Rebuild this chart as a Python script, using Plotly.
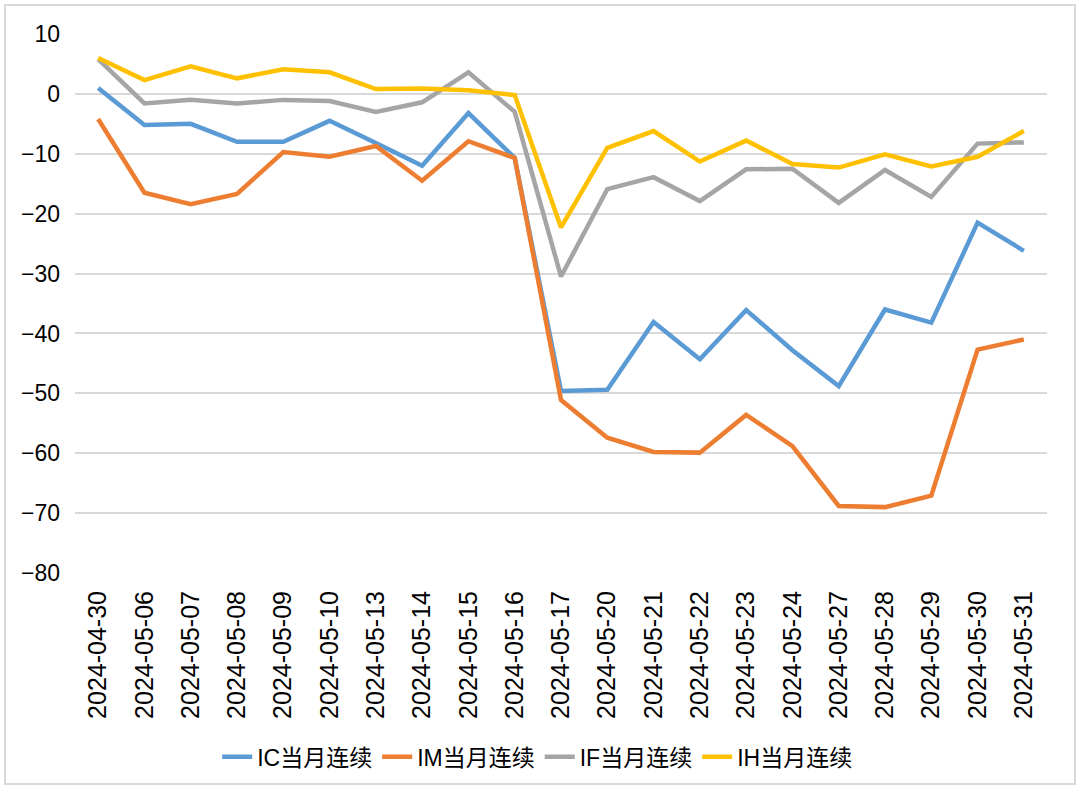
import plotly.graph_objects as go

dates = ["2024-04-30", "2024-05-06", "2024-05-07", "2024-05-08", "2024-05-09", "2024-05-10",
         "2024-05-13", "2024-05-14", "2024-05-15", "2024-05-16", "2024-05-17", "2024-05-20",
         "2024-05-21", "2024-05-22", "2024-05-23", "2024-05-24", "2024-05-27", "2024-05-28",
         "2024-05-29", "2024-05-30", "2024-05-31"]
ic = [1.0, -5.2, -5.0, -8.0, -8.0, -4.5, -8.2, -12.0, -3.2, -10.7, -49.6, -49.4,
      -38.1, -44.3, -36.1, -42.8, -48.8, -36.0, -38.2, -21.5, -26.2]
im = [-4.2, -16.5, -18.4, -16.7, -9.7, -10.5, -8.7, -14.5, -7.9, -10.7, -51.1, -57.4,
      -59.8, -59.9, -53.6, -58.8, -68.8, -69.0, -67.1, -42.7, -41.0]
if_ = [5.8, -1.6, -1.0, -1.6, -1.0, -1.2, -3.0, -1.4, 3.6, -3.0, -30.5, -15.9,
       -13.9, -17.9, -12.6, -12.5, -18.2, -12.7, -17.2, -8.3, -8.1]
ih = [6.0, 2.3, 4.6, 2.6, 4.1, 3.6, 0.8, 0.9, 0.6, -0.2, -22.3, -9.0,
      -6.2, -11.3, -7.8, -11.7, -12.3, -10.1, -12.1, -10.5, -6.2]

series = [
    ("IC当月连续", ic, "#5B9BD5"),
    ("IM当月连续", im, "#ED7D31"),
    ("IF当月连续", if_, "#A5A5A5"),
    ("IH当月连续", ih, "#FFC000"),
]

font_family = "Liberation Sans, Arial, Noto Sans CJK SC, sans-serif"

fig = go.Figure()
for name, vals, color in series:
    fig.add_trace(go.Scatter(x=dates, y=vals, mode="lines", name=name,
                             line=dict(color=color, width=4.5)))

fig.update_layout(
    width=1080, height=799,
    margin=dict(l=75, r=33, t=34, b=226),
    paper_bgcolor="white", plot_bgcolor="white",
    font=dict(family=font_family, size=23, color="#000000"),
    showlegend=True,
    legend=dict(orientation="h", x=0.476, xanchor="center", y=-0.341, yanchor="middle",
                font=dict(size=23), traceorder="normal"),
    xaxis=dict(type="category", tickangle=-90, showgrid=False, showline=False,
               range=[-0.5, len(dates) - 0.5],
               ticks="", tickfont=dict(size=25), ticklabelstandoff=12),
    yaxis=dict(range=[-80, 10], dtick=10, tick0=0, showgrid=True, gridcolor="#D9D9D9",
               gridwidth=1.5, zeroline=False, showline=False, ticks="",
               tickfont=dict(size=23), ticklabelstandoff=14),
    shapes=[dict(type="rect", xref="paper", yref="paper",
                 x0=-0.072, x1=1.0288, y0=-0.3915, y1=1.0538,
                 line=dict(color="#D9D9D9", width=2), fillcolor="rgba(0,0,0,0)",
                 layer="below")],
)

fig.write_html("out.html")
